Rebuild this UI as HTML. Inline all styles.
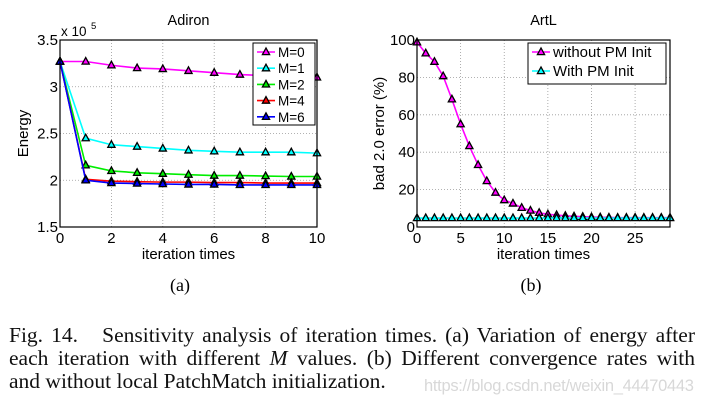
<!DOCTYPE html>
<html><head><meta charset="utf-8"><style>
body{margin:0;background:#fff;width:705px;height:409px;overflow:hidden;position:relative;font-family:"Liberation Sans",sans-serif}
svg{position:absolute;left:0;top:0}
.cap{position:absolute;left:9px;top:324px;width:686px;font-family:"Liberation Serif",serif;font-size:21.5px;line-height:23px;color:#111}
.cap div{text-align:justify;text-align-last:justify;white-space:nowrap}
.cap div.last{text-align-last:left}
.wm{position:absolute;left:424px;top:377px;font-family:"Liberation Sans",sans-serif;font-size:16.5px;color:#d8d8d8;letter-spacing:-0.3px}
</style></head><body>
<svg id="chart" width="705" height="409"></svg>
<div class="cap">
<div>Fig. 14.&nbsp;&nbsp; Sensitivity analysis of iteration times. (a) Variation of energy after</div>
<div>each iteration with different <i>M</i> values. (b) Different convergence rates with</div>
<div class="last">and without local PatchMatch initialization.</div>
</div>
<div class="wm">https://blog.csdn.net/weixin_44470443</div>
<script>
const xA=[0,1,2,3,4,5,6,7,8,9,10];
const m0=[3.27,3.27,3.23,3.20,3.19,3.17,3.15,3.13,3.12,3.11,3.10];
const m1=[3.27,2.45,2.38,2.36,2.34,2.32,2.31,2.30,2.30,2.30,2.29];
const m2=[3.27,2.16,2.10,2.08,2.07,2.06,2.05,2.05,2.045,2.04,2.04];
const m4=[3.27,2.01,1.99,1.985,1.98,1.98,1.975,1.975,1.97,1.97,1.97];
const m6=[3.27,2.00,1.97,1.965,1.96,1.955,1.955,1.95,1.95,1.95,1.95];
const yTicksA=[1.5,2,2.5,3,3.5];
const xTicksA=[0,2,4,6,8,10];
const xB=[0,1,2,3,4,5,6,7,8,9,10,11,12,13,14,15,16,17,18,19,20,21,22,23,24,25,26,27,28,29];
const without=[98.8,92.9,88.4,80.7,68.3,55,43.3,33.2,24.6,18.4,14.4,12.6,10.3,8.8,7.6,6.8,6.4,6.0,5.7,5.5,5.3,5.2,5.1,5.0,5.0,5.0,5.0,5.0,5.0,5.0];
const withPM=[4.8,4.8,4.8,4.8,4.8,4.8,4.8,4.8,4.8,4.8,4.8,4.8,4.8,4.8,4.8,4.8,4.8,4.8,4.8,4.8,4.8,4.8,4.8,4.8,4.8,4.8,4.8,4.8,4.8,4.8];
const yTicksB=[0,20,40,60,80,100];
const xTicksB=[0,5,10,15,20,25];

const svg=document.getElementById('chart');
const NS='http://www.w3.org/2000/svg';
function mk(t,a,parent){const e=document.createElementNS(NS,t);for(const k in a)e.setAttribute(k,a[k]);(parent||svg).appendChild(e);return e;}
function txt(x,y,s,size,anchor,parent){const e=mk('text',{x:x,y:y,'font-size':size,'text-anchor':anchor||'middle',fill:'#000'},parent);e.textContent=s;return e;}
function tri(g,x,y,fill){return mk('polygon',{points:`${x},${y-4} ${x-3.6},${y+2.6} ${x+3.6},${y+2.6}`,fill:fill,stroke:'#000','stroke-width':1.3},g);}

function panel(o){
  const g=mk('g',{});
  
  
  const sx=v=>o.x0+(v-o.xmin)/(o.xmax-o.xmin)*(o.x1-o.x0);
  const sy=v=>o.y1-(v-o.ymin)/(o.ymax-o.ymin)*(o.y1-o.y0);
  mk('rect',{x:o.x0,y:o.y0,width:o.x1-o.x0,height:o.y1-o.y0,fill:'#fff'},g);
  o.xt.forEach(v=>{if(v>o.xmin&&v<o.xmax)mk('line',{x1:sx(v),x2:sx(v),y1:o.y0,y2:o.y1,stroke:'#999','stroke-dasharray':'1,2','stroke-width':0.8},g);});
  o.yt.forEach(v=>{if(v>o.ymin&&v<o.ymax)mk('line',{x1:o.x0,x2:o.x1,y1:sy(v),y2:sy(v),stroke:'#999','stroke-dasharray':'1,2','stroke-width':0.8},g);});
  o.series.forEach(s=>{
    const sg=mk('g',{},g);
    
    
    mk('polyline',{points:s.x.map((v,i)=>sx(v)+','+sy(s.y[i])).join(' '),fill:'none',stroke:s.c,'stroke-width':1.6},sg);
    s.x.forEach((v,i)=>tri(sg,sx(v),sy(s.y[i]),s.c));
  });
  mk('rect',{x:o.x0,y:o.y0,width:o.x1-o.x0,height:o.y1-o.y0,fill:'none',stroke:'#000','stroke-width':1.2},g);
  o.xt.forEach(v=>{txt(sx(v),o.y1+16,String(v),15,'middle',g);});
  o.yt.forEach(v=>{txt(o.x0-2,sy(v)+5,o.yfmt(v),15,'end',g);});
  txt((o.x0+o.x1)/2,o.y0-15,o.title,14.5,'middle',g);
  txt((o.x0+o.x1)/2,o.y1+32,'iteration times',15,'middle',g);
  const yl=txt(0,0,o.ylabel,15,'middle',g);
  yl.setAttribute('transform',`translate(${o.ylx},${(o.y0+o.y1)/2}) rotate(-90)`);
  const L=o.legend;
  const lg=mk('g',{},g);
  
  
  mk('rect',{x:L.x,y:L.y,width:L.w,height:L.h,fill:'#fff',stroke:'#000','stroke-width':1},lg);
  o.series.forEach((s,i)=>{
    const yy=L.y+9+i*L.dy;
    mk('line',{x1:L.x+4,x2:L.x+22,y1:yy,y2:yy,stroke:s.c,'stroke-width':1.6},lg);
    tri(lg,L.x+13,yy,s.c);
    txt(L.x+25,yy+5,s.label,L.fs,'start',lg);
  });
  return {g,sx,sy};
}
const A=panel({name:'energy-chart',x0:60,x1:317,y0:40,y1:227,xmin:0,xmax:10,ymin:1.5,ymax:3.5,xt:xTicksA,yt:yTicksA,
  yfmt:v=>String(v),title:'Adiron',ylabel:'Energy',ylx:28,
  legend:{x:253,y:43,w:62,h:82,dy:16.2,fs:13.5},
  series:[{id:'series-m0',x:xA,y:m0,c:'#ff00ff',label:'M=0'},{id:'series-m1',x:xA,y:m1,c:'#00ffff',label:'M=1'},{id:'series-m2',x:xA,y:m2,c:'#00ee00',label:'M=2'},{id:'series-m4',x:xA,y:m4,c:'#ff0000',label:'M=4'},{id:'series-m6',x:xA,y:m6,c:'#0000ff',label:'M=6'}]});
txt(61,36,'x 10',13.5,'start',A.g);
txt(91,29,'5',9.5,'start',A.g);
panel({name:'error-chart',x0:417,x1:670,y0:40,y1:227,xmin:0,xmax:29,ymin:0,ymax:100,xt:xTicksB,yt:yTicksB,
  yfmt:v=>String(v),title:'ArtL',ylabel:'bad 2.0 error (%)',ylx:384,
  legend:{x:528,y:43,w:138,h:41,dy:19,fs:15},
  series:[{id:'series-without-pm',x:xB,y:without,c:'#ff00ff',label:'without PM Init'},{id:'series-with-pm',x:xB,y:withPM,c:'#00ffff',label:'With PM Init'}]});
const a=txt(180,291,'(a)',18,'middle');a.setAttribute('font-family','Liberation Serif');


const b=txt(531,291,'(b)',18,'middle');b.setAttribute('font-family','Liberation Serif');


</script>
</body></html>
